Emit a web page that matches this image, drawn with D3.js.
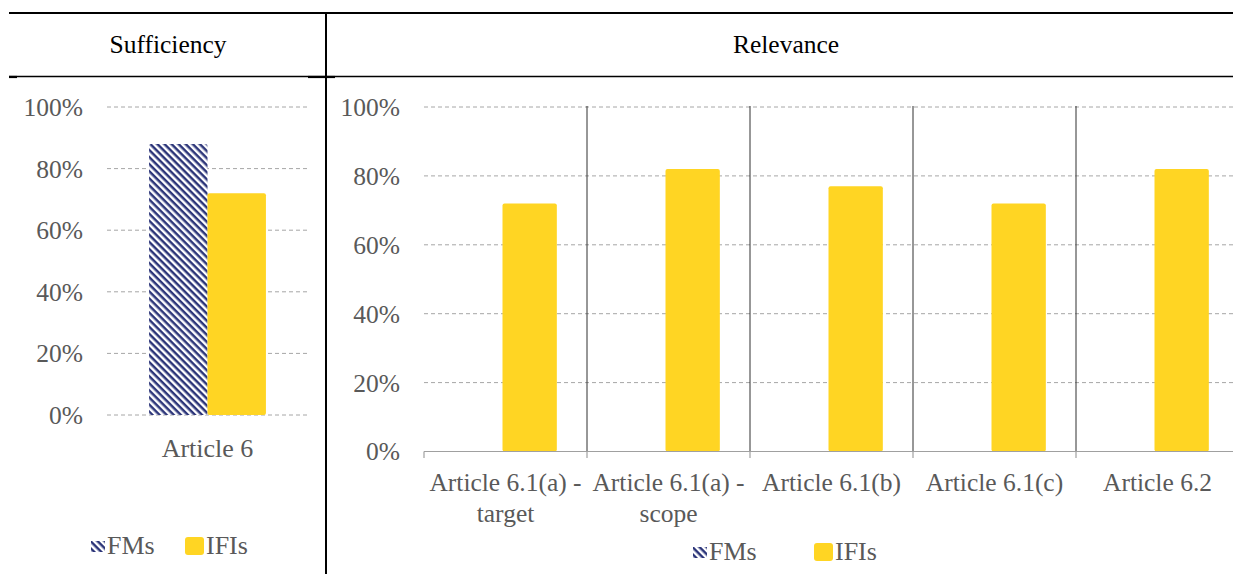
<!DOCTYPE html>
<html>
<head>
<meta charset="utf-8">
<script src="https://cdn.jsdelivr.net/npm/d3@7"></script>
<style>
  body { margin: 0; background: #fff; }
  svg { display: block; }
</style>
</head>
<body>
<div class="chart"></div>
<script>
// data
var series = ["FMs", "IFIs"];
var yTicks = [0, 0.2, 0.4, 0.6, 0.8, 1];

var suffCategories = ["Article 6"];
var suffFMs = [0.88];
var suffIFIs = [0.72];

var relCategories = [
  ["Article 6.1(a) -", "target"],
  ["Article 6.1(a) -", "scope"],
  ["Article 6.1(b)"],
  ["Article 6.1(c)"],
  ["Article 6.2"]
];
var relFMs = [0, 0, 0, 0, 0];
var relIFIs = [0.72, 0.82, 0.77, 0.72, 0.82];

var width = 1233, height = 574;
var navy = "#2c3579", yellow = "#ffd523", grey = "#595959", gridCol = "#a6a6a6";
var serif = "'Liberation Serif'";

var svg = d3.select(".chart").append("svg")
    .attr("width", width)
    .attr("height", height);

// hatch pattern for FMs
var pat = svg.append("defs").append("pattern")
    .attr("id", "hatch")
    .attr("patternUnits", "userSpaceOnUse")
    .attr("width", 5).attr("height", 5)
    .attr("patternTransform", "rotate(45)");
pat.append("rect").attr("width", 5).attr("height", 5).attr("fill", "#fff");
pat.append("rect").attr("width", 5).attr("height", 2.5).attr("fill", navy);

function fillFor(s) { return s === "FMs" ? "url(#hatch)" : yellow; }

// table frame
svg.append("line").attr("x1", 9).attr("x2", width).attr("y1", 13).attr("y2", 13)
    .attr("stroke", "#000").attr("stroke-width", 2.2);
svg.append("line").attr("x1", 9).attr("x2", width).attr("y1", 76.5).attr("y2", 76.5)
    .attr("stroke", "#000").attr("stroke-width", 1.3);
svg.append("line").attr("x1", 9).attr("x2", 17).attr("y1", 77).attr("y2", 77)
    .attr("stroke", "#000").attr("stroke-width", 2.2);
svg.append("line").attr("x1", 308).attr("x2", 335).attr("y1", 77).attr("y2", 77)
    .attr("stroke", "#000").attr("stroke-width", 2.2);
svg.append("line").attr("x1", 326).attr("x2", 326).attr("y1", 12).attr("y2", height)
    .attr("stroke", "#000").attr("stroke-width", 2);

svg.append("text").attr("x", 168).attr("y", 53).attr("text-anchor", "middle")
    .style("font-family", serif)
    .attr("font-size", 25.5).attr("fill", "#000").text("Sufficiency");
svg.append("text").attr("x", 786).attr("y", 53).attr("text-anchor", "middle")
    .style("font-family", serif)
    .attr("font-size", 25.5).attr("fill", "#000").text("Relevance");

function drawGrid(g, y, x0, x1, labelX) {
  g.selectAll(".grid").data(yTicks).enter().append("line")
      .attr("x1", x0).attr("x2", x1)
      .attr("y1", function(d) { return y(d); })
      .attr("y2", function(d) { return y(d); })
      .attr("stroke", gridCol).attr("stroke-width", 1)
      .attr("stroke-dasharray", "4,3");
  g.selectAll(".ytick").data(yTicks).enter().append("text")
      .attr("x", labelX)
      .attr("y", function(d) { return y(d); })
      .attr("dy", "0.35em")
      .attr("text-anchor", "end")
      .style("font-family", serif)
      .attr("font-size", 25.5)
      .attr("fill", grey)
      .text(d3.format(".0%"));
}

// ---- Sufficiency panel
var left = svg.append("g");
var yL = d3.scaleLinear().domain([0, 1]).range([415, 107]);
var xL = d3.scaleBand().domain(suffCategories).range([107, 308]);
var xLi = d3.scaleBand().domain(series).range([0, xL.bandwidth()]).paddingOuter(0.72);
drawGrid(left, yL, 107, 308, 83);

var suffRows = suffCategories.map(function(c, i) {
  return { cat: c, values: [{ s: "FMs", v: suffFMs[i] }, { s: "IFIs", v: suffIFIs[i] }] };
});
left.selectAll(".grp").data(suffRows).enter().append("g")
    .attr("transform", function(d) { return "translate(" + xL(d.cat) + ",0)"; })
  .selectAll("rect").data(function(d) { return d.values; }).enter().append("rect")
    .attr("x", function(d) { return xLi(d.s); })
    .attr("width", xLi.bandwidth())
    .attr("y", function(d) { return yL(d.v); })
    .attr("height", function(d) { return yL(0) - yL(d.v); })
    .attr("rx", 2)
    .attr("fill", function(d) { return fillFor(d.s); });

left.selectAll(".cat").data(suffCategories).enter().append("text")
    .attr("x", function(d) { return xL(d) + xL.bandwidth() / 2; })
    .attr("y", 457)
    .attr("text-anchor", "middle")
    .style("font-family", serif)
    .attr("font-size", 26).attr("fill", grey)
    .text(function(d) { return d; });

// ---- Relevance panel
var right = svg.append("g");
var yR = d3.scaleLinear().domain([0, 1]).range([451.5, 107]);
var xR = d3.scaleBand().domain(d3.range(relCategories.length)).range([424, 1239]);
var xRi = d3.scaleBand().domain(series).range([0, xR.bandwidth()]).paddingOuter(0.5);
drawGrid(right, yR, 424, width, 400);

// separators between categories
right.selectAll(".sep").data(d3.range(1, relCategories.length)).enter().append("line")
    .attr("x1", function(i) { return xR(i); }).attr("x2", function(i) { return xR(i); })
    .attr("y1", 106).attr("y2", 451.5)
    .attr("stroke", "#303030").attr("stroke-width", 1);

var relRows = relCategories.map(function(c, i) {
  return { i: i, values: [{ s: "FMs", v: relFMs[i] }, { s: "IFIs", v: relIFIs[i] }] };
});
right.selectAll(".grp").data(relRows).enter().append("g")
    .attr("transform", function(d) { return "translate(" + (xR(d.i) - 3) + ",0)"; })
  .selectAll("rect").data(function(d) { return d.values.filter(function(e) { return e.v > 0; }); })
  .enter().append("rect")
    .attr("x", function(d) { return xRi(d.s); })
    .attr("width", xRi.bandwidth())
    .attr("y", function(d) { return yR(d.v); })
    .attr("height", function(d) { return yR(0) - yR(d.v); })
    .attr("rx", 2)
    .attr("fill", function(d) { return fillFor(d.s); });

// x axis line with boundary ticks
right.append("line").attr("x1", 424).attr("x2", width)
    .attr("y1", 451.5).attr("y2", 451.5)
    .attr("stroke", "#a0a0a0").attr("stroke-width", 1.2);
right.selectAll(".xt").data(d3.range(relCategories.length)).enter().append("line")
    .attr("x1", function(i) { return xR(i); }).attr("x2", function(i) { return xR(i); })
    .attr("y1", 451.5).attr("y2", 458)
    .attr("stroke", "#a0a0a0").attr("stroke-width", 1.2);

var catText = right.selectAll(".cat").data(relCategories).enter().append("text")
    .attr("text-anchor", "middle")
    .style("font-family", serif)
    .attr("font-size", 25.5).attr("fill", grey)
    .attr("transform", function(d, i) { return "translate(" + (xR(i) + xR.bandwidth() / 2) + ",491)"; });
catText.selectAll("tspan").data(function(d) { return d; }).enter().append("tspan")
    .attr("x", 0)
    .attr("y", function(d, j) { return j * 31; })
    .text(function(d) { return d; });

// legends
function legend(x, y, gap) {
  var g = svg.append("g").attr("transform", "translate(" + x + "," + y + ")");
  g.append("rect").attr("x", 0).attr("y", -13).attr("width", 14).attr("height", 11)
      .attr("fill", "url(#hatch)");
  g.append("text").attr("x", 16).attr("y", 0).style("font-family", serif)
      .attr("font-size", 26).attr("fill", grey).text(series[0]);
  g.append("rect").attr("x", gap).attr("y", -17).attr("width", 19).attr("height", 18)
      .attr("rx", 3).attr("fill", yellow);
  g.append("text").attr("x", gap + 21).attr("y", 0).style("font-family", serif)
      .attr("font-size", 26).attr("fill", grey).text(series[1]);
}
legend(91, 554, 94);
legend(693, 560, 121);
</script>
</body>
</html>
